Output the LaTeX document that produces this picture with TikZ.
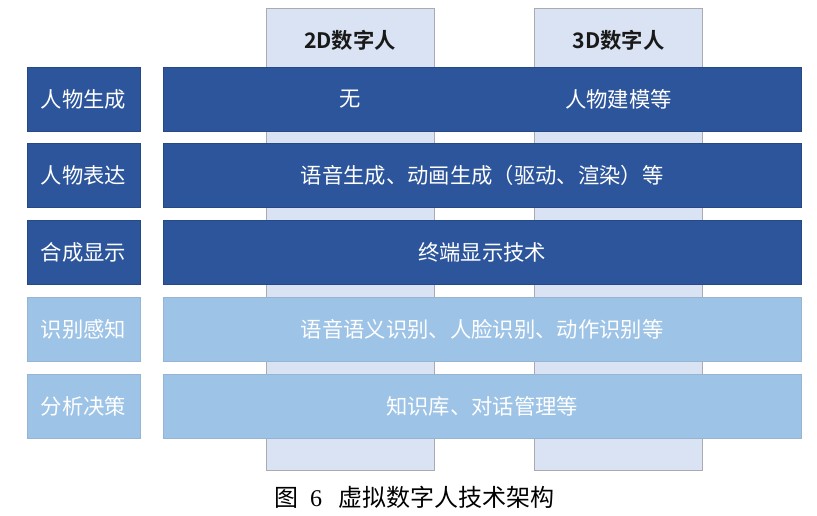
\documentclass[tikz,border=0pt]{standalone}
\usepackage{fontspec}
\newfontfamily\cjk{Noto Sans CJK SC}[BoldFont=Noto Sans CJK SC Bold]
\newfontfamily\capnum{Liberation Serif}
\definecolor{darkrow}{RGB}{45,85,155}
\definecolor{lightrow}{RGB}{157,195,230}
\definecolor{colfill}{RGB}{218,227,243}
\definecolor{colline}{RGB}{170,170,175}

\begin{document}
\begin{tikzpicture}[x=0.75pt, y=-0.75pt,
    every node/.style={inner sep=0pt, outer sep=0pt, font=\cjk\fontsize{16}{18}\selectfont},
    column/.style={rectangle, draw=colline, fill=colfill, line width=0.6pt, minimum width=126pt, minimum height=346.5pt},
    label/.style={rectangle, minimum width=84.75pt, minimum height=48pt, text=white},
    wide/.style={rectangle, minimum width=478.5pt, minimum height=48pt, text=white},
    dark/.style={fill=darkrow, draw=darkrow!85!black, line width=0.4pt},
    light/.style={fill=lightrow, draw=lightrow!80!gray, line width=0.4pt},
    head/.style={font=\cjk\bfseries\fontsize{16}{18}\selectfont, text=black!90}]
    \useasboundingbox (0,0) rectangle (817,515);

    % 两列
    \node[column] (col2d) at (350, 239) {};
    \node[column] (col3d) at (618.5, 239) {};
    \node[head] (head2d) at (350, 40) {2D数字人};
    \node[head] (head3d) at (618.5, 40) {3D数字人};

    % 左侧标签
    \node[label, dark] (gen) at (83.5, 99) {人物生成};
    \node[label, dark] (expr) at (83.5, 175) {人物表达};
    \node[label, dark] (show) at (83.5, 252) {合成显示};
    \node[label, light] (sense) at (83.5, 329) {识别感知};
    \node[label, light] (decide) at (83.5, 406) {分析决策};

    % 各行
    \node[wide, dark] (genrow) at (482, 99) {};
    \node[wide, dark] (exprrow) at (482, 175) {语音生成、动画生成（驱动、渲染）等};
    \node[wide, dark] (showrow) at (482, 252) {终端显示技术};
    \node[wide, light] (senserow) at (482, 329) {语音语义识别、人脸识别、动作识别等};
    \node[wide, light] (deciderow) at (482, 406) {知识库、对话管理等};

    % 第一行的两格
    \node[text=white] (gen2d) at (350, 99) {无};
    \node[text=white] (gen3d) at (618.5, 99) {人物建模等};

    % 图题
    \node[font=\cjk\fontsize{18}{20}\selectfont] (caption) at (414, 497) {图\enspace{\capnum 6}\enspace\,虚拟数字人技术架构};
\end{tikzpicture}
\end{document}
